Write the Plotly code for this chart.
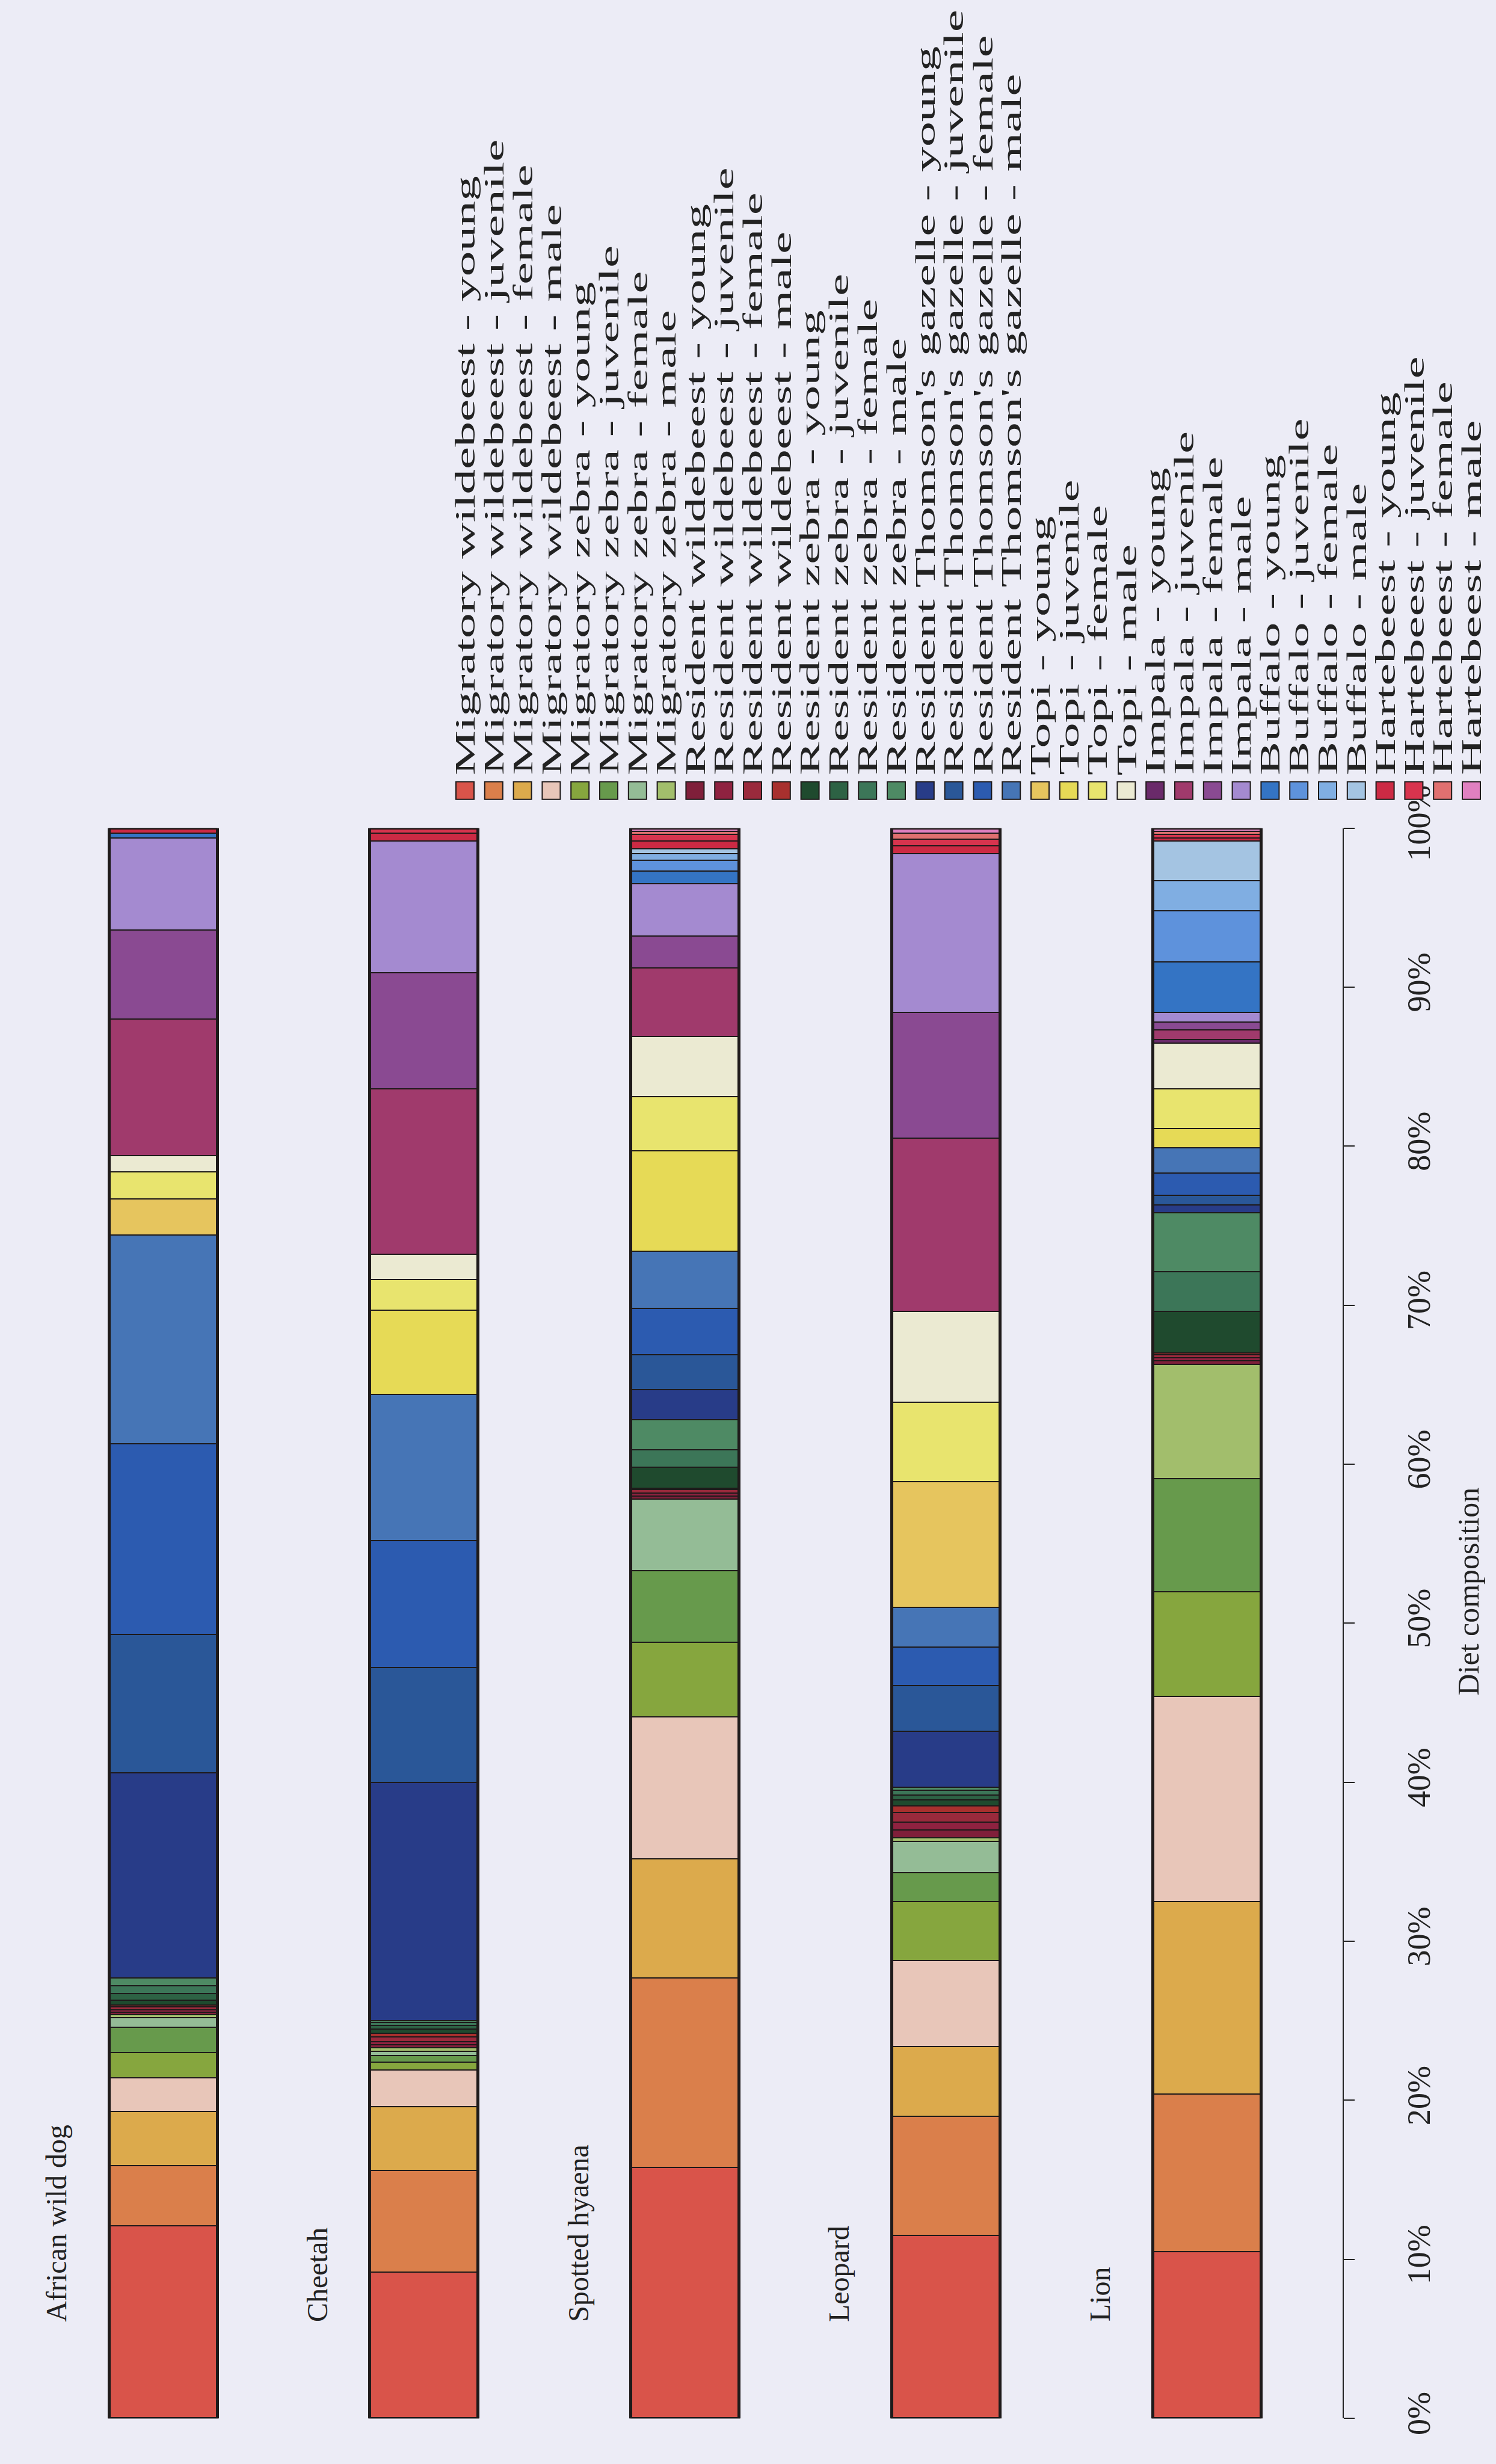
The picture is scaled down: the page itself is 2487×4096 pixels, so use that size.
import json
import plotly.graph_objects as go

predators = ["African wild dog", "Cheetah", "Spotted hyaena", "Leopard", "Lion"]
prey_groups = ["Migratory wildebeest", "Migratory zebra", "Resident wildebeest",
               "Resident zebra", "Resident Thomson's gazelle", "Topi", "Impala",
               "Buffalo", "Hartebeest"]
age_sex = ["young", "juvenile", "female", "male"]
categories = [f"{g} - {c}" for g in prey_groups for c in age_sex]

# Diet composition (%) per prey category, in the order of `categories`
wild_dog = [12.1, 3.8, 3.4, 2.1,   1.6, 1.6, 0.6, 0.2,   0.15, 0.15, 0.2, 0.1,
            0.3, 0.4, 0.5, 0.5,   12.9, 8.7, 12.0, 13.1,   2.3, 0.0, 1.7, 1.0,
            0.0, 8.6, 5.6, 5.8,   0.3, 0.0, 0.0, 0.0,   0.3, 0.0, 0.0, 0.0]
cheetah = [9.2, 6.4, 4.0, 2.3,   0.5, 0.4, 0.3, 0.2,   0.2, 0.2, 0.3, 0.2,
           0.3, 0.2, 0.2, 0.1,   15.0, 7.2, 8.0, 9.2,   0.0, 5.3, 1.9, 1.6,
           0.0, 10.4, 7.3, 8.3,   0.0, 0.0, 0.0, 0.0,   0.5, 0.3, 0.0, 0.0]
hyaena = [15.8, 11.9, 7.5, 8.9,   4.7, 4.5, 4.5, 0.0,   0.2, 0.2, 0.2, 0.1,
          1.3, 0.0, 1.1, 1.9,   1.9, 2.2, 2.9, 3.6,   0.0, 6.3, 3.4, 3.8,
          0.0, 4.3, 2.0, 3.3,   0.8, 0.7, 0.4, 0.3,   0.5, 0.4, 0.2, 0.2]
leopard = [11.5, 7.5, 4.4, 5.4,   3.7, 1.8, 2.0, 0.2,   0.5, 0.5, 0.6, 0.4,
           0.4, 0.3, 0.3, 0.2,   3.5, 2.9, 2.4, 2.5,   7.9, 0.0, 5.0, 5.7,
           0.0, 10.9, 7.9, 10.0,   0.0, 0.0, 0.0, 0.0,   0.5, 0.4, 0.4, 0.3]
lion = [10.5, 9.9, 12.1, 12.9,   6.6, 7.1, 0.0, 7.2,   0.2, 0.2, 0.2, 0.1,
        2.6, 0.0, 2.5, 3.7,   0.5, 0.6, 1.4, 1.6,   0.0, 1.2, 2.5, 2.9,
        0.2, 0.6, 0.5, 0.6,   3.2, 3.2, 1.9, 2.5,   0.2, 0.2, 0.2, 0.2]

colors = ["#d9544a", "#da7f4b", "#dcaa4c", "#e8c6b9",
          "#86a63e", "#679a4c", "#94bc96", "#a2be6c",
          "#7f1f3a", "#8f2240", "#9a2a3c", "#a8302e",
          "#1f4a2e", "#2d6244", "#3c7658", "#4e8a64",
          "#283c88", "#2a5798", "#2c5bb0", "#4675b6",
          "#e6c55e", "#e6da56", "#e8e46e", "#ebead2",
          "#6a2a6a", "#a03a6c", "#8a4a92", "#a48ad0",
          "#3474c4", "#5e92dc", "#80aee2", "#a4c4e2",
          "#cc2a44", "#d8344e", "#e07070", "#e080c0"]

diets = [wild_dog, cheetah, hyaena, leopard, lion]
W, H = 2487, 4096
FONT = "Liberation Serif"
BG = "#ececf6"
BAR_W = 0.415
LEGEND_STRETCH = 1.78

fig = go.Figure()

for i, cat in enumerate(categories):
    fig.add_trace(go.Bar(
        x=predators, y=[d[i] for d in diets], name=cat,
        marker=dict(color=colors[i], line=dict(color="#1e1a1a", width=2)),
        width=BAR_W, showlegend=False))

# heavy outline around each full bar
fig.add_trace(go.Bar(
    x=predators, y=[sum(d) for d in diets], xaxis="x2", yaxis="y2",
    marker=dict(color="rgba(0,0,0,0)", line=dict(color="#1e1a1a", width=5)),
    width=BAR_W, showlegend=False, hoverinfo="skip"))

x_dom = [0.0, 2232 / W]
y_dom = [49 / H, 2758 / H]
x_rng = [-0.625, 4.521]

fig.update_layout(
    width=W, height=H,
    margin=dict(l=0, r=0, t=0, b=0),
    paper_bgcolor=BG, plot_bgcolor=BG,
    barmode="stack",
    font=dict(family=FONT, color="#222"),
    xaxis=dict(domain=x_dom, range=x_rng, type="category", categoryorder="array",
               categoryarray=predators, visible=False),
    xaxis2=dict(domain=x_dom, range=x_rng, type="category", categoryorder="array",
                categoryarray=predators, overlaying="x", visible=False),
    yaxis=dict(domain=y_dom, range=[0, 100], side="right", anchor="x",
               tickvals=list(range(0, 101, 10)),
               ticktext=[f"{v}%" for v in range(0, 101, 10)],
               tickangle=-90, ticks="outside", ticklen=18, tickwidth=2,
               tickcolor="#222", showline=True, linecolor="#222", linewidth=2,
               showgrid=False, zeroline=False, ticklabelstandoff=60,
               tickfont=dict(family=FONT, size=54, color="#222")),
    yaxis2=dict(domain=y_dom, range=[0, 100], overlaying="y", visible=False),
)

# axis title
fig.add_annotation(text="Diet composition", xref="paper", yref="y",
                   x=2441 / W, y=52, textangle=-90, showarrow=False,
                   font=dict(family=FONT, size=50, color="#222"),
                   xanchor="center", yanchor="middle")

# predator names beside each bar
for k, p in enumerate(predators):
    fig.add_annotation(text=p, xref="x", yref="y", x=k - 0.41, y=6,
                       textangle=-90, showarrow=False,
                       font=dict(family=FONT, size=48, color="#222"),
                       xanchor="center", yanchor="bottom")

# rotated legend: swatch below, label reading upward
lx0, ldx = 773, 47.8
for i, cat in enumerate(categories):
    cx = (lx0 + ldx * i) / W
    fig.add_shape(type="rect", xref="paper", yref="paper",
                  x0=cx - 15 / W, x1=cx + 15 / W,
                  y0=1 - 1289 / H, y1=1 - 1259 / H,
                  fillcolor=colors[i], line=dict(color="#1e1a1a", width=2))
    fig.add_annotation(text=cat, xref="paper", yref="paper", x=cx,
                       y=1 - 1250 / H, textangle=-90, showarrow=False,
                       font=dict(family=FONT, size=47, color="#222"),
                       xanchor="center", yanchor="bottom")

# legend labels are set in a widened face: stretch each along its reading
# direction, keeping the start of the text fixed next to its swatch
stretch_js = """
var gd = document.getElementById('{plot_id}');
var labels = %s;
var s = %f;
gd.querySelectorAll('g.annotation').forEach(function (g) {
  var t = g.querySelector('text.annotation-text');
  if (!t || labels.indexOf(t.textContent) < 0) return;
  var bb = t.getBBox();
  var x0 = bb.x;
  t.setAttribute('transform',
    'translate(' + x0 + ',0) scale(' + s + ',1) translate(' + (-x0) + ',0)');
});
""" % (json.dumps(categories), LEGEND_STRETCH)

fig.write_html("out.html", post_script=stretch_js)
